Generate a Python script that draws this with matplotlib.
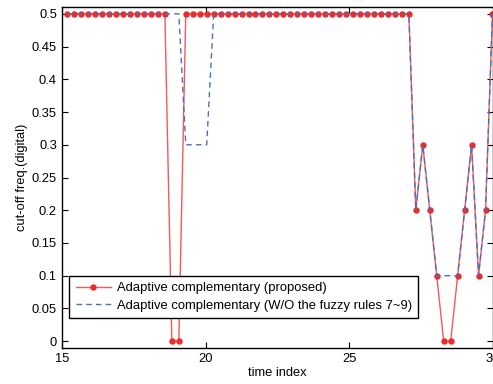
import numpy as np
import matplotlib
matplotlib.use("Agg")
import matplotlib.pyplot as plt

plt.rcParams['font.family'] = ['Liberation Sans', 'DejaVu Sans']

t0 = 15.19
dt = 0.2425
n_pts = 62
t = t0 + dt * np.arange(n_pts)

# cut-off frequency, proposed method
y_prop = [0.5] * 15 + [0.0, 0.0] + [0.5] * 33 + \
    [0.2, 0.3, 0.2, 0.1, 0.0, 0.0, 0.1, 0.2, 0.3, 0.1, 0.2, 0.5]

# cut-off frequency, without fuzzy rules 7~9
y_wo = [0.5] * 17 + [0.3] * 4 + [0.5] * 29 + \
    [0.2, 0.3, 0.2, 0.1, 0.1, 0.1, 0.1, 0.2, 0.3, 0.1, 0.2, 0.5]

yticks = np.arange(0, 0.501, 0.05)
ytick_labels = ['0', '0.05', '0.1', '0.15', '0.2', '0.25', '0.3', '0.35', '0.4', '0.45', '0.5']
xticks = [15, 20, 25, 30]

fig = plt.figure(figsize=(4.93, 3.84), dpi=100)
ax = fig.add_axes([0.1254, 0.0945, 0.8746, 0.8865])

ax.plot(t, y_prop, color='#f25a5a', lw=1.0, marker='o', ms=3.6,
        mfc='#ee2a2a', mec='#ee2a2a', zorder=2,
        label='Adaptive complementary (proposed)')
ax.plot(t, y_wo, color='#4a6fc0', lw=1.0, ls=(0, (4, 3)), zorder=3,
        label='Adaptive complementary (W/O the fuzzy rules 7~9)')

ax.set_xlim(15, 30)
ax.set_ylim(-0.01, 0.51)
ax.set_xticks(xticks)
ax.set_yticks(yticks)
ax.set_yticklabels(ytick_labels)
ax.tick_params(direction='in', top=True, right=True, labelsize=9.3, length=4, width=0.8)
for s in ax.spines.values():
    s.set_linewidth(1.0)

ax.set_xlabel('time index', fontsize=9.3, labelpad=2)
ax.set_ylabel('cut-off freq.(digital)', fontsize=9.3, labelpad=3)

leg = ax.legend(loc='lower left', bbox_to_anchor=(0.017, 0.087), borderaxespad=0,
                fontsize=9.4, fancybox=False, edgecolor='black', framealpha=1,
                handlelength=2.7, handletextpad=0.45, borderpad=0.5, labelspacing=0.4)
leg.get_frame().set_linewidth(1.0)

fig.savefig('out.png', dpi=100)
